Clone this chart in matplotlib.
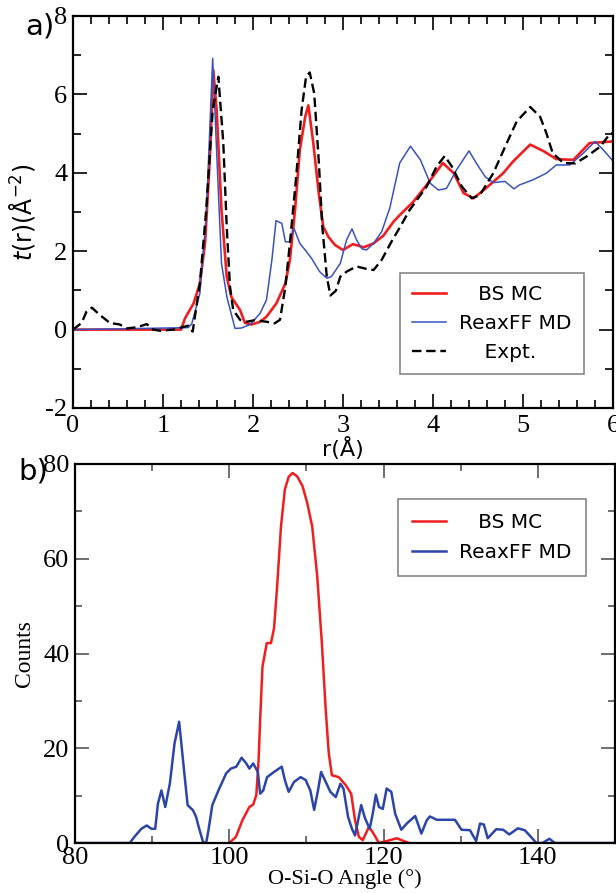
import numpy as np
import matplotlib
matplotlib.use("Agg")
import matplotlib.pyplot as plt
from matplotlib.ticker import MultipleLocator

plt.rcParams["axes.unicode_minus"] = False

SERIF = "Liberation Serif"
SANS = "DejaVu Sans"
RED = "#f01e1e"
BLUE_A = "#3a52c0"
BLUE_B = "#2c45a8"

# t(r) curves
r_bs = [0, 1.2, 1.245, 1.34, 1.41, 1.467, 1.52, 1.559, 1.596, 1.65, 1.708, 1.76, 1.856, 1.91, 1.985,
        2.08, 2.15, 2.26, 2.36, 2.41, 2.467, 2.52, 2.58, 2.615, 2.67, 2.73, 2.78, 2.837, 2.91, 3.0,
        3.11, 3.23, 3.34, 3.45, 3.56, 3.63, 3.78, 3.93, 4.11, 4.23, 4.34, 4.45, 4.59, 4.78, 4.89,
        5.08, 5.23, 5.37, 5.56, 5.74, 6.0]
t_bs = [0, 0, 0.29, 0.67, 1.18, 2.20, 4.33, 6.62, 5.6, 3.05, 1.35, 0.83, 0.50, 0.17, 0.13,
        0.2, 0.33, 0.67, 1.18, 1.78, 3.05, 4.58, 5.43, 5.72, 4.76, 3.49, 2.63, 2.37, 2.16, 2.03,
        2.18, 2.1, 2.2, 2.4, 2.75, 2.92, 3.26, 3.69, 4.25, 3.99, 3.48, 3.35, 3.61, 3.99, 4.29,
        4.72, 4.55, 4.35, 4.33, 4.76, 4.8]

r_md = [0, 1.28, 1.32, 1.41, 1.48, 1.552, 1.6, 1.65, 1.71, 1.8, 1.87, 1.97, 2.08, 2.15, 2.21,
        2.256, 2.32, 2.36, 2.41, 2.456, 2.52, 2.58, 2.65, 2.74, 2.82, 2.87, 2.97, 3.04, 3.10, 3.15,
        3.21, 3.26, 3.34, 3.43, 3.52, 3.63, 3.75, 3.86, 3.97, 4.06, 4.15, 4.26, 4.40, 4.48, 4.58,
        4.67, 4.80, 4.90, 4.96, 5.11, 5.26, 5.37, 5.52, 5.67, 5.8, 5.89, 6.0]
t_md = [0, 0.05, 0.15, 0.93, 2.88, 6.92, 4.33, 1.69, 0.83, 0.03, 0.04, 0.13, 0.42, 0.76, 1.78,
        2.78, 2.71, 2.24, 2.24, 2.58, 2.2, 2.03, 1.82, 1.48, 1.31, 1.35, 1.69, 2.29, 2.57, 2.29,
        2.06, 2.03, 2.2, 2.5, 3.1, 4.25, 4.68, 4.33, 3.73, 3.56, 3.6, 4.07, 4.56, 4.25, 3.9,
        3.75, 3.78, 3.59, 3.69, 3.82, 3.99, 4.2, 4.2, 4.5, 4.8, 4.59, 4.3]

r_ex = [0, 0.096, 0.15, 0.21, 0.3, 0.41, 0.52, 0.6, 0.71, 0.82, 0.89, 0.97, 1.11, 1.23, 1.28,
        1.33, 1.41, 1.48, 1.552, 1.615, 1.67, 1.708, 1.744, 1.78, 1.856, 1.93, 2.02, 2.15, 2.24,
        2.30, 2.36, 2.41, 2.48, 2.54, 2.59, 2.63, 2.68, 2.73, 2.77, 2.82, 2.86, 2.92, 2.97, 3.04,
        3.15, 3.26, 3.34, 3.43, 3.54, 3.63, 3.74, 3.93, 4.04, 4.13, 4.21, 4.32, 4.43, 4.52, 4.67,
        4.82, 4.93, 5.08, 5.19, 5.26, 5.33, 5.45, 5.58, 5.71, 5.86, 5.97, 6.0]
t_ex = [0, 0.17, 0.46, 0.56, 0.37, 0.17, 0.13, 0.03, 0.06, 0.14, 0.0, -0.03, 0.0, 0.07, 0.1,
        -0.05, 1.18, 3.05, 5.6, 6.45, 4.76, 2.63, 1.1, 0.5, 0.25, 0.2, 0.24, 0.2, 0.16,
        0.25, 1.1, 2.2, 3.9, 5.6, 6.46, 6.56, 6.03, 4.33, 2.63, 1.35, 0.87, 0.99, 1.35, 1.48,
        1.61, 1.55, 1.52, 1.78, 2.25, 2.6, 3.05, 3.65, 4.16, 4.43, 4.16, 3.65, 3.35, 3.43, 3.99,
        4.76, 5.31, 5.68, 5.43, 5.01, 4.5, 4.25, 4.24, 4.42, 4.67, 5.01, 5.0]

# O-Si-O angle distributions
ang_bs = [100, 100.86, 101.7, 102.6, 103.1, 103.5, 103.8, 104.0, 104.3, 104.86, 105.4, 105.8, 106.2,
          106.7, 107.2, 107.7, 108.2, 108.8, 109.5, 110.1, 110.75, 111.4, 112.0, 112.5, 112.9, 113.3,
          114.2, 115.1, 115.8, 116.3, 116.8, 117.3, 118.1, 118.7, 119.4, 120.6, 121.7, 122.8, 123.3]
cnt_bs = [0, 1.3, 4.8, 7.6, 8.1, 10.1, 17.5, 25.9, 37.2, 42.2, 42.2, 45.3, 54.1,
          66.8, 74.6, 77.3, 78.1, 77.4, 75.3, 71.8, 66.8, 56.3, 42.2, 28.1, 18.9, 14.3,
          13.9, 12.2, 10.4, 4.8, 1.3, 0.6, 3.4, 2.0, 0, 0.5, 1.0, 0.3, 0]

ang_md = [80, 87.1, 87.7, 88.6, 89.3, 89.9, 90.4, 90.75, 91.2, 91.7, 92.3, 92.9, 93.5, 94.0, 94.6,
          95.3, 95.7, 96.1, 96.6, 97.0, 97.3, 97.8, 98.7, 99.6, 100.2, 100.9, 101.6, 102.2, 102.6,
          103.1, 103.7, 104.0, 104.4, 104.9, 105.8, 106.8, 107.2, 107.7, 108.4, 109.25, 109.9, 110.5,
          111.0, 111.5, 111.9, 112.5, 113.1, 113.8, 114.4, 114.8, 115.4, 115.9, 116.3, 116.7, 117.1,
          117.6, 118.2, 118.6, 119.0, 119.4, 119.9, 120.4, 121.0, 121.5, 122.3, 123.0, 124.1, 124.9,
          125.6, 126.0, 126.9, 129.25, 130.1, 131.2, 132.0, 132.5, 133.0, 133.5, 134.6, 135.5, 136.3,
          137.4, 138.3, 139.1, 139.8, 140.6, 141.5, 142.2, 150]
cnt_md = [0, 0, 1.3, 3.0, 3.7, 3.0, 3.0, 8.3, 11.1, 7.6, 12.6, 21.0, 25.6, 17.5, 8.0,
          6.9, 5.5, 3.0, 0.2, 0, 2.7, 8.0, 11.5, 14.7, 15.7, 16.1, 18.0, 16.8, 15.7,
          16.8, 15.0, 10.4, 11.1, 13.9, 15.0, 16.1, 13.3, 10.8, 12.9, 13.9, 13.3, 11.1,
          7.0, 11.1, 15.0, 12.9, 10.8, 9.7, 12.5, 11.5, 5.5, 3.0, 1.6, 4.8, 8.0,
          5.2, 3.0, 6.2, 10.2, 7.6, 7.2, 11.5, 10.8, 6.2, 2.8, 4.1, 5.7, 2.0,
          4.8, 5.6, 4.9, 4.9, 2.8, 2.7, 0.4, 4.1, 3.9, 1.0, 2.9, 2.8, 1.8,
          3.1, 2.7, 1.3, 0, 0, 0.9, 0, 0]


def style_axes(ax, tick_color, major_len, minor_len, xpad, ypad):
    for sp in ax.spines.values():
        sp.set_linewidth(1.6)
    ax.tick_params(which="both", direction="in", top=True, right=True,
                   color=tick_color, width=1.2)
    ax.tick_params(which="major", length=major_len, labelsize=19,
                   labelfontfamily=SERIF)
    ax.tick_params(axis="x", which="major", pad=xpad)
    ax.tick_params(axis="y", which="major", pad=ypad)
    ax.tick_params(which="minor", length=minor_len)


def add_legend(ax, anchor, spacing, borderpad):
    leg = ax.legend(loc="upper left", bbox_to_anchor=anchor, frameon=True,
                    fancybox=False, edgecolor="#888888", framealpha=1,
                    handlelength=1.7, handletextpad=0.65, borderaxespad=0,
                    labelspacing=spacing, borderpad=borderpad,
                    prop={"family": SANS, "size": 14.5})
    leg.get_frame().set_linewidth(1.2)
    return leg


fig = plt.figure(figsize=(6.16, 8.93), dpi=100)

# panel a: t(r)
ax1 = fig.add_axes([73 / 616, 1 - 408 / 893, 540 / 616, 392 / 893])
ax1.plot(r_bs, t_bs, color=RED, lw=1.9, label="   BS MC")
ax1.plot(r_md, t_md, color=BLUE_A, lw=1.1, label="ReaxFF MD")
ax1.plot(r_ex, t_ex, color="black", lw=1.7, ls=(0, (4, 2)), label="    Expt.")
ax1.set_xlim(0, 6)
ax1.set_ylim(-2, 8)
ax1.xaxis.set_major_locator(MultipleLocator(1))
ax1.xaxis.set_minor_locator(MultipleLocator(0.2))
ax1.yaxis.set_major_locator(MultipleLocator(2))
ax1.yaxis.set_minor_locator(MultipleLocator(1))
style_axes(ax1, "black", 10, 6, 5, 4)
ax1.set_xlabel("r(Å)", fontsize=16, family=SANS, labelpad=0)
ax1.set_ylabel("$t$(r)(Å$^{-2}$)", fontsize=17, family=SANS, labelpad=6)
add_legend(ax1, (0.605, 0.344), 0.5, 0.6)
fig.text(25 / 616, 1 - 26 / 893, "a)", fontsize=21, family=SANS, va="center")

# panel b: bond-angle distribution
ax2 = fig.add_axes([75 / 616, 1 - 843 / 893, 540 / 616, 379 / 893])
ax2.plot(ang_bs, cnt_bs, color=RED, lw=1.8, label="   BS MC")
ax2.plot(ang_md, cnt_md, color=BLUE_B, lw=1.8, label="ReaxFF MD")
ax2.set_xlim(80, 150)
ax2.set_ylim(0, 80)
ax2.xaxis.set_major_locator(MultipleLocator(20))
ax2.xaxis.set_minor_locator(MultipleLocator(10))
ax2.yaxis.set_major_locator(MultipleLocator(20))
ax2.yaxis.set_minor_locator(MultipleLocator(10))
style_axes(ax2, "#555555", 10, 5, 3, 4)
ax2.set_xlabel("O-Si-O Angle (°)", fontsize=16, family=SERIF, labelpad=0)
ax2.set_ylabel("Counts", fontsize=17, family=SERIF, labelpad=6)
add_legend(ax2, (0.598, 0.908), 0.55, 0.7)
fig.text(18 / 616, 1 - 472 / 893, "b)", fontsize=21, family=SANS, va="center")

fig.savefig("out.png", dpi=100)
